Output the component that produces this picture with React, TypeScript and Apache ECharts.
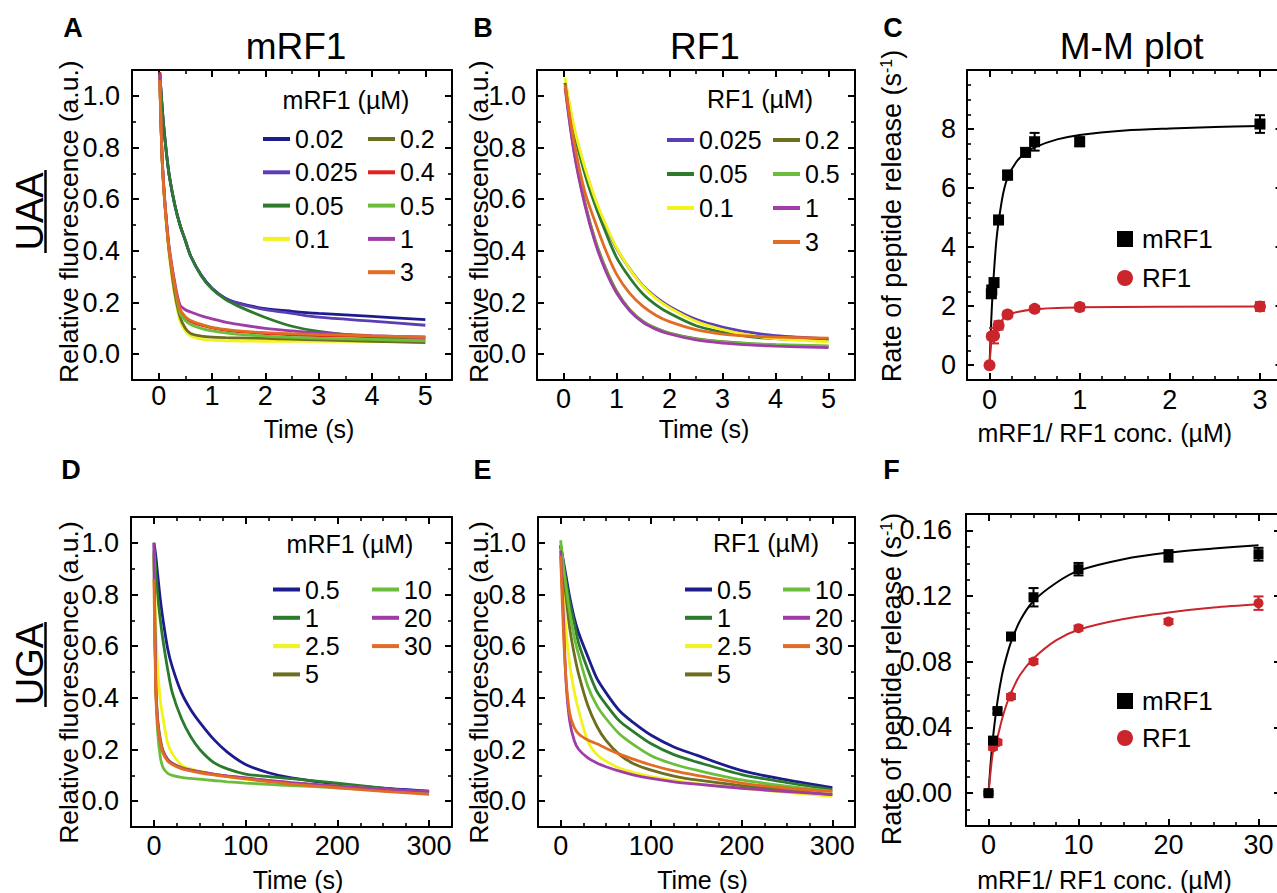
import React, { useEffect, useRef } from "react";
import * as echarts from "echarts";

const FONT = "'Liberation Sans', Arial, Helvetica, sans-serif";

const NAVY = "#1c1c8c";
const VIOLET = "#5b3db4";
const DGREEN = "#2c7a2c";
const YELLOW = "#f2f21c";
const OLIVE = "#6e6e20";
const RED = "#e2231f";
const LGREEN = "#6cbd3c";
const PURPLE = "#a03ca8";
const ORANGE = "#e36c24";
const MM_RED = "#c9252b";

// ---------------- Panel A (UAA, mRF1) ----------------
const timeA = [0.02, 0.06, 0.1, 0.15, 0.2, 0.3, 0.4, 0.5, 0.6, 0.8, 1, 1.25, 1.5, 2, 2.5, 3, 4, 5];
const namesA = ["0.02", "0.025", "0.05", "0.1", "0.2", "0.4", "0.5", "1", "3"];
const colorsA = [NAVY, VIOLET, DGREEN, YELLOW, OLIVE, RED, LGREEN, PURPLE, ORANGE];
const a_002 = [1.09, 0.97, 0.87, 0.77, 0.69, 0.58, 0.5, 0.44, 0.38, 0.305, 0.255, 0.217, 0.198, 0.176, 0.166, 0.158, 0.146, 0.134];
const a_0025 = [1.09, 0.97, 0.87, 0.77, 0.69, 0.58, 0.5, 0.44, 0.38, 0.305, 0.255, 0.215, 0.196, 0.172, 0.158, 0.143, 0.128, 0.112];
const a_005 = [1.09, 0.97, 0.87, 0.77, 0.69, 0.58, 0.5, 0.44, 0.38, 0.303, 0.252, 0.212, 0.185, 0.142, 0.108, 0.088, 0.066, 0.053];
const a_01 = [1.08, 0.78, 0.62, 0.49, 0.38, 0.23, 0.13, 0.09, 0.07, 0.058, 0.054, 0.052, 0.051, 0.05, 0.05, 0.05, 0.049, 0.047];
const a_02 = [1.08, 0.78, 0.63, 0.5, 0.39, 0.24, 0.145, 0.1, 0.08, 0.07, 0.066, 0.064, 0.063, 0.061, 0.058, 0.055, 0.05, 0.045];
const a_04 = [1.09, 0.78, 0.63, 0.5, 0.4, 0.27, 0.17, 0.14, 0.127, 0.112, 0.102, 0.093, 0.087, 0.08, 0.075, 0.072, 0.068, 0.065];
const a_05 = [1.08, 0.78, 0.63, 0.5, 0.4, 0.265, 0.16, 0.13, 0.115, 0.1, 0.09, 0.082, 0.077, 0.07, 0.065, 0.062, 0.057, 0.052];
const a_1 = [1.08, 0.79, 0.64, 0.51, 0.41, 0.28, 0.19, 0.172, 0.163, 0.148, 0.137, 0.124, 0.115, 0.1, 0.09, 0.082, 0.072, 0.066];
const a_3 = [1.06, 0.78, 0.63, 0.5, 0.4, 0.27, 0.175, 0.145, 0.13, 0.115, 0.104, 0.096, 0.09, 0.083, 0.079, 0.076, 0.071, 0.067];
const valuesA = [a_002, a_0025, a_005, a_01, a_02, a_04, a_05, a_1, a_3];

// ---------------- Panel B (UAA, RF1) ----------------
const timeB = [0.03, 0.2, 0.4, 0.6, 0.8, 1.0, 1.25, 1.5, 1.75, 2, 2.5, 3, 3.5, 4, 5];
const namesB = ["0.025", "0.05", "0.1", "0.2", "0.5", "1", "3"];
const colorsB = [VIOLET, DGREEN, YELLOW, OLIVE, LGREEN, PURPLE, ORANGE];
const b_0025 = [1.05, 0.87, 0.72, 0.595, 0.495, 0.41, 0.33, 0.265, 0.22, 0.185, 0.135, 0.105, 0.085, 0.072, 0.06];
const b_005 = [1.05, 0.86, 0.7, 0.575, 0.47, 0.375, 0.296, 0.233, 0.19, 0.158, 0.11, 0.085, 0.068, 0.06, 0.053];
const b_01 = [1.07, 0.88, 0.725, 0.6, 0.5, 0.413, 0.33, 0.263, 0.215, 0.18, 0.127, 0.095, 0.074, 0.06, 0.048];
const b_02 = [1.05, 0.79, 0.59, 0.44, 0.33, 0.245, 0.172, 0.127, 0.1, 0.082, 0.06, 0.048, 0.041, 0.036, 0.03];
const b_05 = [1.04, 0.785, 0.585, 0.435, 0.325, 0.24, 0.17, 0.125, 0.098, 0.08, 0.058, 0.047, 0.041, 0.037, 0.032];
const b_1 = [1.03, 0.78, 0.58, 0.43, 0.32, 0.238, 0.168, 0.123, 0.096, 0.078, 0.055, 0.043, 0.036, 0.031, 0.025];
const b_3 = [1.04, 0.82, 0.63, 0.51, 0.4, 0.31, 0.235, 0.185, 0.15, 0.126, 0.095, 0.078, 0.07, 0.066, 0.062];
const valuesB = [b_0025, b_005, b_01, b_02, b_05, b_1, b_3];

// ---------------- Panel D (UGA, mRF1) ----------------
const timeD = [0, 2, 4, 7, 10, 15, 20, 30, 40, 50, 65, 80, 100, 125, 150, 200, 250, 300];
const namesDE = ["0.5", "1", "2.5", "5", "10", "20", "30"];
const colorsDE = [NAVY, DGREEN, YELLOW, OLIVE, LGREEN, PURPLE, ORANGE];
const d_05 = [1.0, 0.95, 0.88, 0.78, 0.7, 0.59, 0.52, 0.42, 0.355, 0.305, 0.24, 0.19, 0.142, 0.11, 0.09, 0.066, 0.05, 0.039];
const d_1 = [0.99, 0.9, 0.8, 0.7, 0.62, 0.51, 0.42, 0.32, 0.25, 0.2, 0.15, 0.125, 0.105, 0.095, 0.087, 0.07, 0.05, 0.032];
const d_25 = [0.95, 0.68, 0.52, 0.39, 0.32, 0.225, 0.185, 0.14, 0.125, 0.116, 0.105, 0.095, 0.085, 0.077, 0.07, 0.058, 0.045, 0.03];
const d_5 = [0.97, 0.46, 0.32, 0.24, 0.195, 0.162, 0.147, 0.13, 0.12, 0.113, 0.104, 0.097, 0.089, 0.079, 0.07, 0.056, 0.044, 0.032];
const d_10 = [0.96, 0.45, 0.27, 0.17, 0.13, 0.108, 0.1, 0.092, 0.088, 0.085, 0.08, 0.075, 0.07, 0.065, 0.06, 0.052, 0.042, 0.032];
const d_20 = [1.0, 0.45, 0.31, 0.23, 0.19, 0.16, 0.145, 0.128, 0.12, 0.113, 0.105, 0.098, 0.09, 0.08, 0.072, 0.058, 0.047, 0.038];
const d_30 = [0.86, 0.42, 0.3, 0.225, 0.185, 0.155, 0.142, 0.126, 0.117, 0.11, 0.102, 0.095, 0.086, 0.076, 0.066, 0.052, 0.038, 0.026];
const valuesD = [d_05, d_1, d_25, d_5, d_10, d_20, d_30];

// ---------------- Panel E (UGA, RF1) ----------------
const timeE = [0, 3, 6, 10, 15, 20, 30, 40, 50, 65, 80, 100, 125, 150, 200, 250, 300];
const e_05 = [0.99, 0.93, 0.87, 0.79, 0.71, 0.65, 0.56, 0.475, 0.42, 0.35, 0.305, 0.255, 0.21, 0.178, 0.118, 0.082, 0.052];
const e_1 = [0.99, 0.92, 0.85, 0.77, 0.69, 0.61, 0.51, 0.425, 0.375, 0.31, 0.27, 0.222, 0.18, 0.152, 0.103, 0.072, 0.045];
const e_25 = [0.97, 0.82, 0.66, 0.53, 0.425, 0.35, 0.232, 0.18, 0.155, 0.128, 0.112, 0.095, 0.08, 0.068, 0.05, 0.034, 0.019];
const e_5 = [0.99, 0.88, 0.79, 0.67, 0.57, 0.49, 0.37, 0.29, 0.235, 0.18, 0.146, 0.12, 0.097, 0.082, 0.06, 0.043, 0.025];
const e_10 = [1.01, 0.91, 0.83, 0.73, 0.635, 0.565, 0.445, 0.37, 0.32, 0.26, 0.22, 0.176, 0.143, 0.12, 0.082, 0.058, 0.038];
const e_20 = [0.97, 0.72, 0.46, 0.31, 0.235, 0.2, 0.168, 0.148, 0.133, 0.116, 0.102, 0.088, 0.075, 0.066, 0.05, 0.037, 0.025];
const e_30 = [0.95, 0.66, 0.47, 0.34, 0.285, 0.26, 0.237, 0.222, 0.205, 0.182, 0.163, 0.14, 0.117, 0.1, 0.07, 0.05, 0.038];
const valuesE = [e_05, e_1, e_25, e_5, e_10, e_20, e_30];

// ---------------- Panel C (UAA, M-M plot) ----------------
const cConcM = [0.02, 0.025, 0.05, 0.1, 0.2, 0.4, 0.5, 1, 3];
const cRateM = [2.42, 2.55, 2.8, 4.92, 6.44, 7.21, 7.57, 7.57, 8.17];
const cErrM = [0.12, 0.12, 0.12, 0.14, 0.15, 0.14, 0.3, 0.15, 0.3];
const cConcR = [0, 0.025, 0.05, 0.1, 0.2, 0.5, 1, 3];
const cRateR = [0, 0.98, 1.0, 1.35, 1.72, 1.91, 1.97, 1.99];
const cErrR = [0.05, 0.1, 0.26, 0.14, 0.1, 0.1, 0.12, 0.15];
const cFitMx = [0, 0.01, 0.02, 0.035, 0.05, 0.075, 0.1, 0.15, 0.2, 0.3, 0.4, 0.5, 0.75, 1, 1.5, 2, 2.5, 3];
const cFitMy = [0, 0.8, 1.6, 2.5, 3.2, 4.2, 4.85, 5.8, 6.35, 6.9, 7.2, 7.38, 7.65, 7.8, 7.95, 8.02, 8.07, 8.1];
const cFitRx = [0, 0.01, 0.025, 0.05, 0.1, 0.2, 0.5, 1, 3];
const cFitRy = [0, 0.45, 0.9, 1.15, 1.38, 1.7, 1.9, 1.96, 1.99];

// ---------------- Panel F (UGA, M-M plot) ----------------
const fConc = [0, 0.5, 1, 2.5, 5, 10, 20, 30];
const fRateM = [0, 0.032, 0.05, 0.0954, 0.1193, 0.1364, 0.1445, 0.1455];
const fErrM = [0.001, 0.002, 0.0015, 0.0015, 0.0056, 0.0038, 0.0035, 0.0039];
const fRateR = [0, 0.028, 0.031, 0.0588, 0.0802, 0.1005, 0.1045, 0.1157];
const fErrR = [0.001, 0.0015, 0.0015, 0.0015, 0.0015, 0.0015, 0.0015, 0.0041];
const fFitX = [0, 0.25, 0.5, 1, 1.5, 2, 2.5, 3.5, 5, 7.5, 10, 15, 20, 25, 30];
const fFitMy = [0, 0.019, 0.034, 0.056, 0.072, 0.083, 0.092, 0.105, 0.117, 0.128, 0.1355, 0.1425, 0.1465, 0.149, 0.151];
const fFitRy = [0, 0.014, 0.025, 0.034, 0.045, 0.054, 0.061, 0.072, 0.082, 0.093, 0.0995, 0.106, 0.11, 0.113, 0.115];

// ---------------- Tick values ----------------
const tMajor5 = [0, 1, 2, 3, 4, 5];
const tMinor5 = [0.5, 1.5, 2.5, 3.5, 4.5];
const fluoMajor = [0, 0.2, 0.4, 0.6, 0.8, 1.0];
const fluoMinor = [0.1, 0.3, 0.5, 0.7, 0.9];
const t300Major = [0, 100, 200, 300];
const t300Minor = [25, 50, 75, 125, 150, 175, 225, 250, 275];
const cXMajor = [0, 1, 2, 3];
const cXMinor = [0.25, 0.5, 0.75, 1.25, 1.5, 1.75, 2.25, 2.5, 2.75];
const cYMajor = [0, 2, 4, 6, 8];
const cYMinor = [0.5, 1, 1.5, 2.5, 3, 3.5, 4.5, 5, 5.5, 6.5, 7, 7.5, 8.5, 9, 9.5];
const fXMajor = [0, 10, 20, 30];
const fXMinor = [2.5, 5, 7.5, 12.5, 15, 17.5, 22.5, 25, 27.5];
const fYMajor = [0, 0.04, 0.08, 0.12, 0.16];
const fYMinor = [-0.01, 0.01, 0.02, 0.03, 0.05, 0.06, 0.07, 0.09, 0.1, 0.11, 0.13, 0.14, 0.15];

type AxisCfg = {
  min: number;
  max: number;
  major: number[];
  minor: number[];
  fmt: (v: number) => string;
  margin: number;
  name: string;
  nameGap: number;
  namePad: number[];
  nameSize: number;
};

function axesFor(dim: "x" | "y", gi: number, c: AxisCfg): any[] {
  const sides = dim === "x" ? ["bottom", "top"] : ["left", "right"];
  const base = {
    type: "value",
    gridIndex: gi,
    min: c.min,
    max: c.max,
    splitLine: { show: false },
    splitArea: { show: false },
    silent: true,
  };
  const line = { show: true, onZero: false, lineStyle: { color: "#000", width: 2 } };
  const noLine = { show: false, onZero: false };
  const majorTick = { show: true, inside: true, length: 7, customValues: c.major, lineStyle: { color: "#000", width: 2 } };
  const minorTick = { show: true, inside: true, length: 4, customValues: c.minor, lineStyle: { color: "#000", width: 1.6 } };
  const label = {
    show: true,
    customValues: c.major,
    formatter: (v: any) => c.fmt(Number(v)),
    margin: c.margin,
    fontSize: 27,
    fontFamily: FONT,
    color: "#000",
  };
  const main: any = { ...base, position: sides[0], axisLine: line, axisTick: majorTick, axisLabel: label };
  if (c.name) {
    main.name = c.name;
    main.nameLocation = "middle";
    main.nameGap = c.nameGap;
    main.nameTextStyle = { fontSize: c.nameSize, fontFamily: FONT, color: "#000", padding: c.namePad };
  }
  return [
    main,
    { ...base, position: sides[0], axisLine: noLine, axisTick: minorTick, axisLabel: { show: false } },
    { ...base, position: sides[1], axisLine: line, axisTick: majorTick, axisLabel: { show: false } },
    { ...base, position: sides[1], axisLine: noLine, axisTick: minorTick, axisLabel: { show: false } },
  ];
}

const fmtInt = (v: number) => String(Math.round(v * 100) / 100);
const fmt1 = (v: number) => v.toFixed(1);
const fmt2 = (v: number) => v.toFixed(2);

const FLUO_NAME = "Relative fluorescence (a.u.)";
const RATE_NAME = "Rate of peptide release (s{sup|-1})";
const CONC_NAME = "mRF1/ RF1 conc. (µM)";

const grids = [
  { left: 132, top: 70, width: 320, height: 310 }, // A
  { left: 537, top: 70, width: 318, height: 310 }, // B
  { left: 967, top: 70, width: 315.5, height: 310 }, // C
  { left: 131, top: 517, width: 321, height: 311 }, // D
  { left: 538, top: 517, width: 317, height: 311 }, // E
  { left: 966, top: 514, width: 315, height: 313 }, // F
];

const xCfgs: AxisCfg[] = [
  { min: -0.5, max: 5.5, major: tMajor5, minor: tMinor5, fmt: fmtInt, margin: 2, name: "Time (s)", nameGap: 36, namePad: [0, 0, 0, 34], nameSize: 25 },
  { min: -0.5, max: 5.5, major: tMajor5, minor: tMinor5, fmt: fmtInt, margin: 5, name: "Time (s)", nameGap: 36, namePad: [0, 0, 0, 16], nameSize: 25 },
  { min: -0.25, max: 3.25, major: cXMajor, minor: cXMinor, fmt: fmtInt, margin: 6, name: CONC_NAME, nameGap: 40, namePad: [0, 40, 0, 0], nameSize: 25 },
  { min: -25, max: 325, major: t300Major, minor: t300Minor, fmt: fmtInt, margin: 5, name: "Time (s)", nameGap: 40, namePad: [0, 0, 0, 13], nameSize: 25 },
  { min: -25, max: 325, major: t300Major, minor: t300Minor, fmt: fmtInt, margin: 5, name: "Time (s)", nameGap: 40, namePad: [0, 0, 0, 12], nameSize: 25 },
  { min: -2.5, max: 32.5, major: fXMajor, minor: fXMinor, fmt: fmtInt, margin: 5, name: CONC_NAME, nameGap: 41, namePad: [0, 38, 0, 0], nameSize: 25 },
];

const yCfgs: AxisCfg[] = [
  { min: -0.1, max: 1.1, major: fluoMajor, minor: fluoMinor, fmt: fmt1, margin: 12, name: "", nameGap: 0, namePad: [0], nameSize: 27 },
  { min: -0.1, max: 1.1, major: fluoMajor, minor: fluoMinor, fmt: fmt1, margin: 11, name: "", nameGap: 0, namePad: [0], nameSize: 27 },
  { min: -0.5, max: 10, major: cYMajor, minor: cYMinor, fmt: fmtInt, margin: 11, name: "", nameGap: 0, namePad: [0], nameSize: 27 },
  { min: -0.1, max: 1.1, major: fluoMajor, minor: fluoMinor, fmt: fmt1, margin: 12, name: "", nameGap: 0, namePad: [0], nameSize: 27 },
  { min: -0.1, max: 1.1, major: fluoMajor, minor: fluoMinor, fmt: fmt1, margin: 12, name: "", nameGap: 0, namePad: [0], nameSize: 27 },
  { min: -0.02, max: 0.17, major: fYMajor, minor: fYMinor, fmt: fmt2, margin: 14, name: "", nameGap: 0, namePad: [0], nameSize: 27 },
];

function decaySeries(p: number, prefix: string, time: number[], names: string[], vals: number[][], colors: string[]) {
  return names.map((n, i) => ({
    type: "line",
    name: `${prefix}|${n}`,
    xAxisIndex: 4 * p,
    yAxisIndex: 4 * p,
    data: time.map((t, j) => [t, vals[i][j]]),
    showSymbol: false,
    symbol: "none",
    smooth: 0.3,
    color: colors[i],
    lineStyle: { color: colors[i], width: 2.8 },
    itemStyle: { color: colors[i] },
    silent: true,
    z: 2,
  }));
}

function errSeries(p: number, xs: number[], ys: number[], es: number[], color: string) {
  return {
    type: "custom",
    xAxisIndex: 4 * p,
    yAxisIndex: 4 * p,
    data: xs.map((x, i) => [x, ys[i], es[i]]),
    encode: { x: 0, y: 1 },
    silent: true,
    z: 3,
    renderItem: (_params: any, api: any) => {
      const x = api.value(0);
      const y = api.value(1);
      const e = api.value(2);
      const top = api.coord([x, y + e]);
      const bot = api.coord([x, y - e]);
      const hw = 5;
      const st = { stroke: color, lineWidth: 2 };
      return {
        type: "group",
        children: [
          { type: "line", shape: { x1: top[0], y1: top[1], x2: bot[0], y2: bot[1] }, style: st },
          { type: "line", shape: { x1: top[0] - hw, y1: top[1], x2: top[0] + hw, y2: top[1] }, style: st },
          { type: "line", shape: { x1: bot[0] - hw, y1: bot[1], x2: bot[0] + hw, y2: bot[1] }, style: st },
        ],
      };
    },
  };
}

function fitSeries(p: number, name: string, xs: number[], ys: number[], color: string) {
  return {
    type: "line",
    name,
    xAxisIndex: 4 * p,
    yAxisIndex: 4 * p,
    data: xs.map((x, i) => [x, ys[i]]),
    showSymbol: false,
    symbol: "none",
    smooth: 0.3,
    lineStyle: { color, width: 2 },
    itemStyle: { color },
    silent: true,
    z: 2,
  };
}

function scatterSeries(p: number, name: string, xs: number[], ys: number[], symbol: string, size: number, color: string) {
  return {
    type: "scatter",
    name,
    xAxisIndex: 4 * p,
    yAxisIndex: 4 * p,
    data: xs.map((x, i) => [x, ys[i]]),
    symbol,
    symbolSize: size,
    itemStyle: { color, opacity: 1 },
    silent: true,
    z: 4,
  };
}

function legendCol(prefix: string, names: string[], left: number, top: number, gap: number) {
  return {
    show: true,
    data: names.map((n) => `${prefix}|${n}`),
    orient: "vertical",
    left,
    top,
    padding: 0,
    itemGap: gap,
    itemWidth: 27,
    itemHeight: 4,
    icon: "rect",
    selectedMode: false,
    formatter: (n: string) => n.split("|")[1],
    textStyle: { fontSize: 25, lineHeight: 25, fontFamily: FONT, color: "#000" },
  };
}

function mmLegend(prefix: string, left: number, top: number, gap: number) {
  return {
    show: true,
    data: [
      { name: `${prefix}|mRF1`, icon: "rect" },
      { name: `${prefix}|RF1`, icon: "circle" },
    ],
    orient: "vertical",
    left,
    top,
    padding: 0,
    itemGap: gap,
    itemWidth: 16,
    itemHeight: 16,
    selectedMode: false,
    formatter: (n: string) => n.split("|")[1],
    textStyle: { fontSize: 26, lineHeight: 26, fontFamily: FONT, color: "#000", padding: [0, 0, 0, 4] },
  };
}

function txt(text: string, x: number, y: number, size: number, weight: string = "normal", rotation: number = 0, rich?: any) {
  const style: any = {
    text,
    fontSize: size,
    fontWeight: weight,
    fontFamily: FONT,
    fill: "#000",
    textAlign: "center",
    align: "center",
    textVerticalAlign: "middle",
    verticalAlign: "middle",
  };
  if (rich) style.rich = rich;
  return { type: "text", x, y, rotation, silent: true, style };
}

const SUP_RICH = { sup: { fontSize: 16, verticalAlign: "top", fontFamily: FONT, fill: "#000", color: "#000" } };

function underline(x: number, y1: number, y2: number) {
  return { type: "line", silent: true, shape: { x1: x, y1, x2: x, y2 }, style: { stroke: "#000", lineWidth: 2.5 } };
}

function buildOption() {
  const xAxis: any[] = [];
  const yAxis: any[] = [];
  for (let i = 0; i < 6; i++) {
    xAxis.push(...axesFor("x", i, xCfgs[i]));
    yAxis.push(...axesFor("y", i, yCfgs[i]));
  }
  const series: any[] = [
    ...decaySeries(0, "A", timeA, namesA, valuesA, colorsA),
    ...decaySeries(1, "B", timeB, namesB, valuesB, colorsB),
    ...decaySeries(3, "D", timeD, namesDE, valuesD, colorsDE),
    ...decaySeries(4, "E", timeE, namesDE, valuesE, colorsDE),
    fitSeries(2, "C|fitM", cFitMx, cFitMy, "#000"),
    fitSeries(2, "C|fitR", cFitRx, cFitRy, MM_RED),
    errSeries(2, cConcM, cRateM, cErrM, "#000"),
    errSeries(2, cConcR, cRateR, cErrR, MM_RED),
    scatterSeries(2, "C|mRF1", cConcM, cRateM, "rect", 11, "#000"),
    scatterSeries(2, "C|RF1", cConcR, cRateR, "circle", 12, MM_RED),
    fitSeries(5, "F|fitM", fFitX, fFitMy, "#000"),
    fitSeries(5, "F|fitR", fFitX, fFitRy, MM_RED),
    errSeries(5, fConc, fRateM, fErrM, "#000"),
    errSeries(5, fConc, fRateR, fErrR, MM_RED),
    scatterSeries(5, "F|RF1", fConc, fRateR, "circle", 10, MM_RED),
    scatterSeries(5, "F|mRF1", fConc, fRateM, "rect", 10, "#000"),
  ];
  const legend = [
    legendCol("A", namesA.slice(0, 4), 263, 126.5, 8.3),
    legendCol("A", namesA.slice(4), 368, 126.5, 8.3),
    legendCol("B", namesB.slice(0, 3), 667, 127.5, 9),
    legendCol("B", namesB.slice(3), 773, 127.5, 9),
    legendCol("D", namesDE.slice(0, 4), 273, 577, 3.3),
    legendCol("D", namesDE.slice(4), 372, 577, 3.3),
    legendCol("E", namesDE.slice(0, 4), 685, 577, 3.3),
    legendCol("E", namesDE.slice(4), 783, 577, 3.3),
    mmLegend("C", 1117, 226, 13),
    mmLegend("F", 1117, 688, 11),
  ];
  const R = Math.PI / 2;
  const graphic = [
    txt("A", 73, 28, 27, "bold"),
    txt("B", 483, 28, 27, "bold"),
    txt("C", 893, 28, 27, "bold"),
    txt("D", 71, 470, 27, "bold"),
    txt("E", 482.5, 470, 27, "bold"),
    txt("F", 891.5, 470, 27, "bold"),
    txt("mRF1", 296, 46.5, 37),
    txt("RF1", 705, 46.5, 37),
    txt("M-M plot", 1131.7, 46.5, 37),
    txt("mRF1 (µM)", 346, 100, 25),
    txt("RF1 (µM)", 760, 99, 25),
    txt("mRF1 (µM)", 350, 544, 25),
    txt("RF1 (µM)", 766, 542.5, 25),
    txt(FLUO_NAME, 69, 221.7, 26.5, "normal", R),
    txt(FLUO_NAME, 479, 221.7, 26.5, "normal", R),
    txt(RATE_NAME, 891.7, 216, 27, "normal", R, SUP_RICH),
    txt(FLUO_NAME, 69, 682.5, 26.5, "normal", R),
    txt(FLUO_NAME, 479, 682.5, 26.5, "normal", R),
    txt(RATE_NAME, 891.5, 679, 27, "normal", R, SUP_RICH),
    txt("UAA", 29.5, 211.5, 38, "normal", R),
    underline(45.5, 170, 253),
    txt("UGA", 29.5, 664, 38, "normal", R),
    underline(45.5, 622, 707),
  ];
  return {
    animation: false,
    backgroundColor: "#fff",
    textStyle: { fontFamily: FONT },
    grid: grids.map((g) => ({ ...g, show: false, containLabel: false })),
    xAxis,
    yAxis,
    legend,
    series,
    graphic,
  };
}

export default function App() {
  const ref = useRef<HTMLDivElement>(null);
  useEffect(() => {
    if (!ref.current) return;
    const chart = echarts.init(ref.current, undefined, { renderer: "svg" });
    chart.setOption(buildOption() as any);
    return () => {
      chart.dispose();
    };
  }, []);
  return (
    <div style={{ position: "absolute", left: 0, top: 0, width: 1277, height: 893, overflow: "hidden", background: "#fff" }}>
      <div ref={ref} style={{ width: 1300, height: 893 }} />
    </div>
  );
}
